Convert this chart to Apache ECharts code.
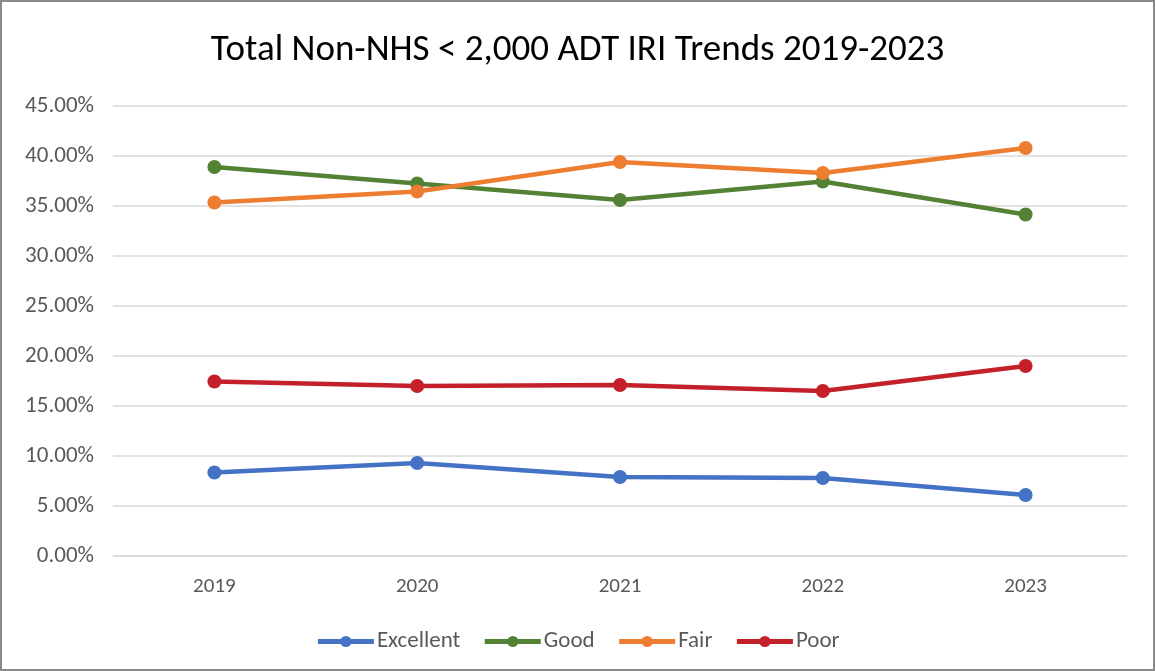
<!DOCTYPE html>
<html>
<head>
<meta charset="utf-8">
<script src="https://cdn.jsdelivr.net/npm/echarts@6/dist/echarts.min.js"></script>
<style>
html,body{margin:0;padding:0;background:#fff;}
#chart{width:1155px;height:671px;box-sizing:border-box;border:2px solid #8a8a8a;}
</style>
</head>
<body>
<div id="chart"></div>
<script>
const categories = ['2019', '2020', '2021', '2022', '2023'];
const excellent = [8.35, 9.3, 7.9, 7.8, 6.1];
const good = [38.9, 37.25, 35.6, 37.45, 34.15];
const fair = [35.35, 36.45, 39.4, 38.3, 40.8];
const poor = [17.45, 17.0, 17.1, 16.5, 19.0];
const yTicks = { min: 0, max: 45, interval: 5 };

const chart = echarts.init(document.getElementById('chart'), null, { renderer: 'canvas' });
const font = 'Calibri, Carlito, "Open Sans", "Liberation Sans", sans-serif';
function mk(name, data, color) {
  return {
    name: name, type: 'line', data: data,
    symbol: 'circle', symbolSize: 14,
    lineStyle: { width: 4.5, color: color },
    itemStyle: { color: color },
    emphasis: { disabled: true }
  };
}
chart.setOption({
  animation: false,
  title: {
    text: 'Total Non-NHS < 2,000 ADT IRI Trends 2019-2023',
    left: 'center', top: 25,
    textStyle: { fontFamily: font, fontSize: 37, fontWeight: 'normal', color: '#000' }
  },
  legend: {
    bottom: 11, left: 'center', itemGap: 22, itemWidth: 56, itemHeight: 14,
    lineStyle: { width: 5 },
    textStyle: { fontFamily: font, fontSize: 23, color: '#595959', padding: [0, 0, 0, -2] },
    data: ['Excellent', 'Good', 'Fair', 'Poor']
  },
  grid: { left: 111, right: 26, top: 104, bottom: 113, containLabel: false },
  xAxis: {
    type: 'category', data: categories, boundaryGap: true,
    axisLine: { show: true, lineStyle: { color: '#d9d9d9', width: 1.5 } },
    axisTick: { show: false },
    axisLabel: { fontFamily: font, fontSize: 21, color: '#595959', margin: 20 }
  },
  yAxis: {
    type: 'value', min: yTicks.min, max: yTicks.max, interval: yTicks.interval,
    axisLine: { show: false }, axisTick: { show: false },
    splitLine: { lineStyle: { color: '#d9d9d9', width: 1.5 } },
    axisLabel: { fontFamily: font, fontSize: 23, color: '#595959', margin: 19,
      formatter: v => v.toFixed(2) + '%' }
  },
  series: [
    mk('Excellent', excellent, '#4472C4'),
    mk('Good', good, '#548235'),
    mk('Fair', fair, '#ED7D31'),
    mk('Poor', poor, '#C3202A')
  ]
});
</script>
</body>
</html>
